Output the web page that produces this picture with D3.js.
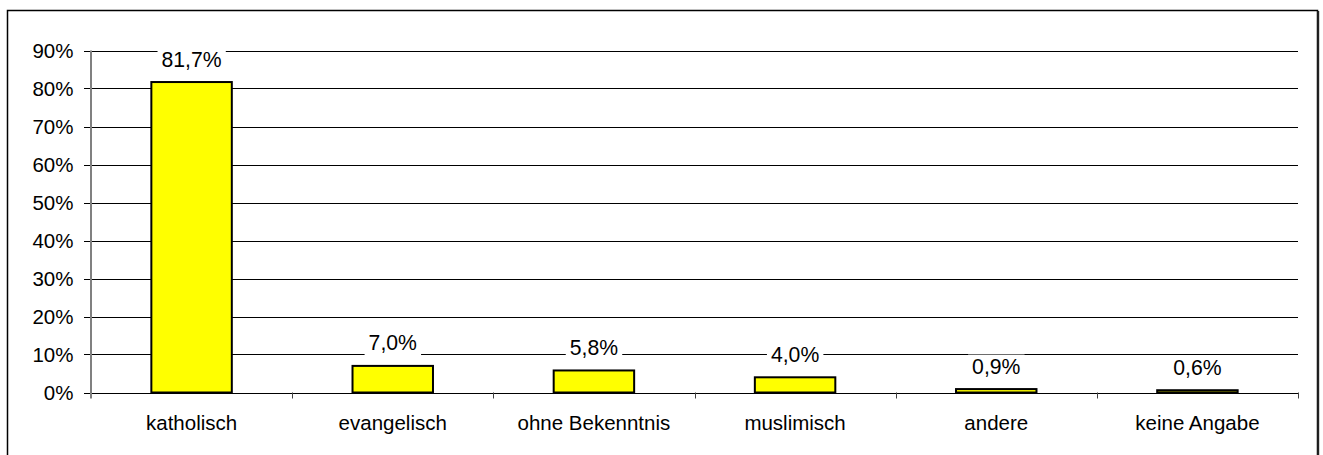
<!DOCTYPE html>
<html>
<head>
<meta charset="utf-8">
<script src="https://cdn.jsdelivr.net/npm/d3@7"></script>
<style>
  html, body { margin: 0; padding: 0; background: #fff; }
  svg { display: block; font-family: Arial, "Liberation Sans", sans-serif; }
</style>
</head>
<body>
<svg id="chart" width="1323" height="455"></svg>
<script>
const categories = ["katholisch", "evangelisch", "ohne Bekenntnis", "muslimisch", "andere", "keine Angabe"];
const values = [0.817, 0.070, 0.058, 0.040, 0.009, 0.006];
const valueLabels = ["81,7%", "7,0%", "5,8%", "4,0%", "0,9%", "0,6%"];
const yTicks = [0, 0.1, 0.2, 0.3, 0.4, 0.5, 0.6, 0.7, 0.8, 0.9];

const svg = d3.select("#chart");
const fontSize = 20.5;
const labelFontSize = 21.2;

// outer frame
svg.append("rect").attr("x", 7.5).attr("y", 10.5).attr("width", 1310).attr("height", 460)
  .attr("fill", "none").attr("stroke", "#000").attr("stroke-width", 1.5);
svg.append("line").attr("x1", 1318.2).attr("x2", 1318.2).attr("y1", 11).attr("y2", 470)
  .attr("stroke", "#222").attr("stroke-width", 2);

const x = d3.scaleBand().domain(categories).range([91, 1298]).padding(0);
const y = d3.scaleLinear().domain([0, 0.9]).range([392.5, 50.5]);

// gridlines
svg.append("g").selectAll("line").data(yTicks).join("line")
  .attr("x1", 84).attr("x2", 1298)
  .attr("y1", d => Math.round(y(d)) + 0.5).attr("y2", d => Math.round(y(d)) + 0.5)
  .attr("stroke", "#000").attr("stroke-width", 1);

// y axis line
svg.append("line").attr("x1", 91).attr("x2", 91).attr("y1", y(0.9)).attr("y2", y(0) + 0.5)
  .attr("stroke", "#808080").attr("stroke-width", 2);

// y tick labels
svg.append("g").selectAll("text").data(yTicks).join("text")
  .attr("x", 73.5).attr("y", d => y(d)).attr("dy", "0.36em")
  .attr("text-anchor", "end").attr("font-size", fontSize).attr("fill", "#000")
  .text(d => Math.round(d * 100) + "%");

// x axis ticks at category boundaries
const bounds = categories.map(c => x(c)).concat([x(categories[categories.length - 1]) + x.bandwidth()]);
svg.append("g").selectAll("line").data(bounds.slice(1)).join("line")
  .attr("x1", d => Math.round(d) + 0.5).attr("x2", d => Math.round(d) + 0.5)
  .attr("y1", y(0)).attr("y2", y(0) + 6)
  .attr("stroke", "#404040").attr("stroke-width", 1);
svg.append("line").attr("x1", 91).attr("x2", 91).attr("y1", y(0)).attr("y2", y(0) + 6)
  .attr("stroke", "#808080").attr("stroke-width", 2);

// bars
const barW = x.bandwidth() * 0.4;
svg.append("g").selectAll("rect").data(values).join("rect")
  .attr("x", (d, i) => x(categories[i]) + (x.bandwidth() - barW) / 2)
  .attr("y", d => y(d))
  .attr("width", barW)
  .attr("height", d => y(0) - y(d))
  .attr("fill", "#FFFF00").attr("stroke", "#000").attr("stroke-width", 2);

// value labels with white backgrounds
const lg = svg.append("g");
values.forEach((v, i) => {
  const cx = x(categories[i]) + x.bandwidth() / 2;
  const by = y(v) - 15.5;
  const g = lg.append("g");
  const bg = g.append("rect").attr("fill", "#fff");
  const t = g.append("text").attr("x", cx).attr("y", by)
    .attr("text-anchor", "middle").attr("font-size", labelFontSize).attr("fill", "#000")
    .text(valueLabels[i]);
  const bb = t.node().getBBox();
  bg.attr("x", bb.x - 4).attr("y", by - 19).attr("width", bb.width + 8).attr("height", 24);
});

// category labels
svg.append("g").selectAll("text").data(categories).join("text")
  .attr("x", d => x(d) + x.bandwidth() / 2).attr("y", 430)
  .attr("text-anchor", "middle").attr("font-size", fontSize).attr("fill", "#000")
  .text(d => d);
</script>
</body>
</html>
